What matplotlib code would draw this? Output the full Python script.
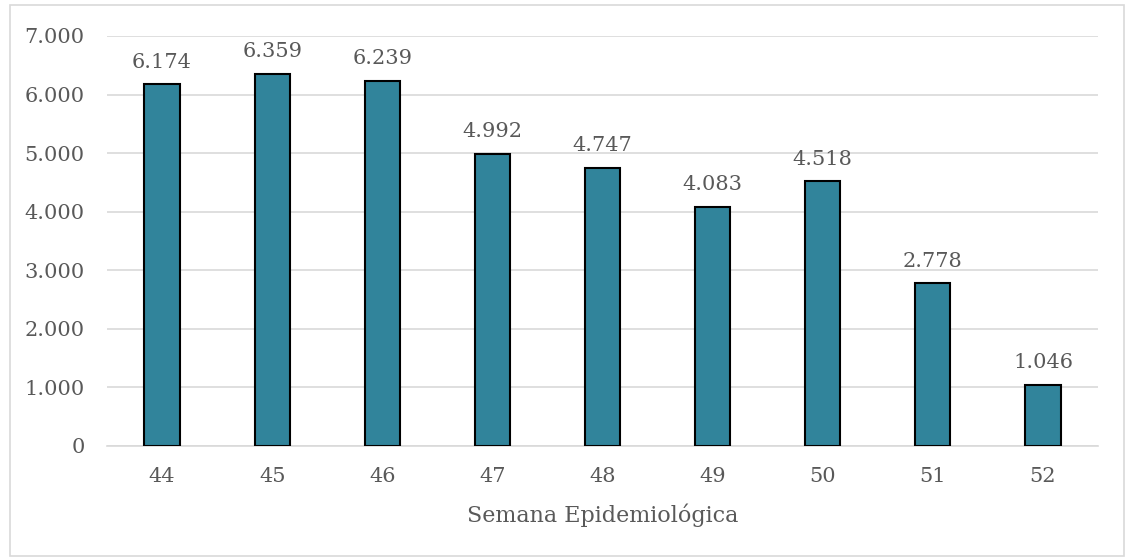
import numpy as np
import matplotlib.pyplot as plt
import matplotlib as mpl
from matplotlib.patches import Rectangle
from matplotlib.ticker import FuncFormatter

mpl.rcParams['font.family'] = 'DejaVu Serif'

SEMANAS = ['44', '45', '46', '47', '48', '49', '50', '51', '52']
CASOS = [6174, 6359, 6239, 4992, 4747, 4083, 4518, 2778, 1046]

BAR_COLOR = '#31849B'
TEXT_COLOR = '#595959'
GRID_COLOR = '#D9D9D9'


def miles(v):
    return f'{v:,.0f}'.replace(',', '.')


fig = plt.figure(figsize=(11.32, 5.57), dpi=100)
ax = fig.add_axes([0.0945, 0.1993, 0.8755, 0.7361])

x = np.arange(len(SEMANAS))
bars = ax.bar(x, CASOS, 0.32, color=BAR_COLOR, edgecolor='black', linewidth=1.5, zorder=3)
for b, v in zip(bars, CASOS):
    ax.annotate(miles(v), xy=(b.get_x() + b.get_width() / 2, v), xytext=(0, 9),
                textcoords='offset points', ha='center', va='bottom',
                fontsize=15, color=TEXT_COLOR)

ax.set_xlim(-0.5, len(SEMANAS) - 0.5)
ax.set_ylim(0, 7000)
ax.set_yticks(np.arange(0, 7001, 1000))
ax.yaxis.set_major_formatter(FuncFormatter(lambda v, _: miles(v)))
ax.set_xticks(x)
ax.set_xticklabels(SEMANAS)
ax.tick_params(length=0, labelsize=15, labelcolor=TEXT_COLOR)
ax.tick_params(axis='x', pad=15)
ax.tick_params(axis='y', pad=16)
ax.grid(axis='y', color=GRID_COLOR, linewidth=1.2, zorder=0)
for s in ['top', 'right', 'left']:
    ax.spines[s].set_visible(False)
ax.spines['bottom'].set_color(GRID_COLOR)
ax.spines['bottom'].set_linewidth(1.2)
ax.set_xlabel('Semana Epidemiológica', fontsize=16, color=TEXT_COLOR, labelpad=13)

# marco exterior del gráfico
fig.patches.append(Rectangle((10 / 1132, 1 / 557), 1114 / 1132, 551 / 557,
                             transform=fig.transFigure, fill=False,
                             edgecolor='#D9D9D9', linewidth=1.2))

fig.savefig('out.png', dpi=100)
